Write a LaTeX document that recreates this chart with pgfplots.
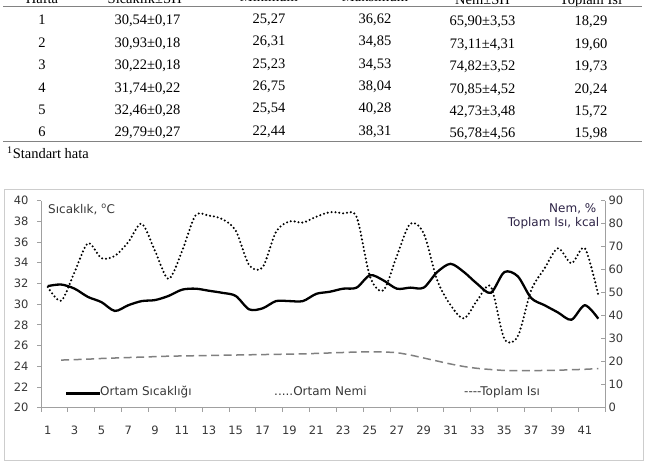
\documentclass[border=0pt]{standalone}
\usepackage{fontspec}
\setmainfont{Liberation Serif}
\newfontfamily\chartfont{DejaVu Sans}
\usepackage{pgfplots}
\usepackage{pgfplotstable}
\pgfplotsset{compat=1.18}
\definecolor{axisgray}{RGB}{160,160,160}
\definecolor{framegray}{RGB}{205,205,205}
\definecolor{labelgray}{RGB}{55,55,55}
\definecolor{rulegray}{RGB}{130,130,130}
\definecolor{dashgray}{RGB}{128,128,128}
\definecolor{navytext}{RGB}{45,35,70}

\newcommand\tabfont{\fontsize{14.5}{17}\selectfont}
\newcommand\cfont{\chartfont\fontsize{12}{14}\selectfont}
% one table row: baseline (pt), then six cells
\newcommand\trow[7]{%
  \node[anchor=base,font=\tabfont] at (42pt,#1pt) {#2};
  \node[anchor=base,font=\tabfont] at (147.5pt,#1pt) {#3};
  \node[anchor=base,font=\tabfont] at (269pt,#1pt+1.5pt) {#4};
  \node[anchor=base,font=\tabfont] at (375pt,#1pt+1.5pt) {#5};
  \node[anchor=base,font=\tabfont] at (482.5pt,#1pt-1pt) {#6};
  \node[anchor=base,font=\tabfont] at (591pt,#1pt-1pt) {#7};}

% week, mean temperature (left axis)
\pgfplotstableread{
i t
1 31.75
2 31.9
3 31.5
4 30.7
5 30.2
6 29.35
7 29.9
8 30.3
9 30.4
10 30.8
11 31.4
12 31.5
13 31.3
14 31.1
15 30.8
16 29.5
17 29.6
18 30.3
19 30.3
20 30.3
21 31.0
22 31.2
23 31.5
24 31.6
25 32.8
26 32.3
27 31.5
28 31.6
29 31.6
30 33.1
31 33.9
32 33.1
33 31.95
34 31.1
35 33.1
36 32.7
37 30.6
38 29.9
39 29.2
40 28.5
41 29.9
42 28.6
}\temp

% week, humidity (right axis)
\pgfplotstableread{
i n
1 52.5
2 46.5
3 59
4 71.5
5 65
6 66
7 72
8 80
9 68
10 56
11 68
12 83.5
13 83.5
14 82
15 77
16 62
17 61
18 76.5
19 81
20 80.5
21 83
22 85
23 84.5
24 83
25 57
26 51
27 66
28 80
29 75.8
30 55.5
31 44.6
32 38.8
33 46.8
34 52.6
35 30
36 31
37 51
38 60.6
39 69.3
40 62.8
41 69.3
42 49
}\nem

% week, total heat (right axis)
\pgfplotstableread{
i h
2 20.7
3 20.9
4 21.1
5 21.4
6 21.6
7 21.8
8 22.0
9 22.2
10 22.4
11 22.5
12 22.6
13 22.7
14 22.8
15 22.9
16 23.0
17 23.1
18 23.2
19 23.3
20 23.4
21 23.6
22 23.8
23 24.0
24 24.2
25 24.3
26 24.2
27 23.9
28 22.9
29 21.6
30 20.3
31 19.0
32 17.9
33 17.1
34 16.6
35 16.2
36 16.1
37 16.1
38 16.2
39 16.3
40 16.5
41 16.7
42 17.0
}\isi

\pgfplotsset{
  weekaxis/.style={
    at={(41pt,57.3pt)}, anchor=south west, scale only axis,
    width=564pt, height=207pt,
    xmin=0.5, xmax=42.5,
    axis line style={draw=axisgray, line width=0.8pt},
    tick style={draw=axisgray, line width=0.8pt},
    major tick length=4pt, minor tick length=4pt,
    tick label style={font=\chartfont\fontsize{11.5}{13}\selectfont, text=labelgray},
    /pgf/number format/assume math mode=true,
    clip=false
  }
}

\begin{document}
\begin{tikzpicture}
\useasboundingbox (0,0) rectangle (649pt,465pt);

% table (top cut off like the scan)
\trow{461.5}{Hafta}{Sıcaklık±SH\textsuperscript{1}}{Minimum}{Maksimum}{Nem±SH}{Toplam Isı}
\draw[rulegray, line width=0.8pt] (3pt,458.3pt) -- (642pt,458.3pt);
\trow{440}{1}{30,54±0,17}{25,27}{36,62}{65,90±3,53}{18,29}
\trow{417.65}{2}{30,93±0,18}{26,31}{34,85}{73,11±4,31}{19,60}
\trow{395.3}{3}{30,22±0,18}{25,23}{34,53}{74,82±3,52}{19,73}
\trow{372.95}{4}{31,74±0,22}{26,75}{38,04}{70,85±4,52}{20,24}
\trow{350.6}{5}{32,46±0,28}{25,54}{40,28}{42,73±3,48}{15,72}
\trow{328.25}{6}{29,79±0,27}{22,44}{38,31}{56,78±4,56}{15,98}
\draw[rulegray, line width=1.3pt] (3pt,323.3pt) -- (642pt,323.3pt);
\node[anchor=base west,font=\tabfont,inner sep=0pt] at (7pt,306pt) {\textsuperscript{1}Standart hata};

% chart frame
\draw[framegray, line width=1pt] (4pt,4pt) rectangle (643pt,275pt);

\begin{axis}[weekaxis,
  ymin=20, ymax=40,
  axis x line*=bottom, axis y line*=left,
  xtick={1,3,...,41}, minor xtick={0.5,2.5,...,42.5},
  major x tick style={draw=none},
  ytick={20,22,...,40}, tick align=outside,
  xticklabel style={yshift=-11pt}, yticklabel style={xshift=-5pt}]
  \addplot[black, line width=2.3pt, smooth, tension=0.5] table[x=i, y=t] {\temp};
\end{axis}

\begin{axis}[weekaxis,
  ymin=0, ymax=90,
  axis x line=none, axis y line*=right,
  xtick=\empty,
  ytick={0,10,...,90}, tick align=inside]
  \addplot[dashgray, line width=1.5pt, dash pattern=on 8pt off 4.5pt, smooth, tension=0.5] table[x=i, y=h] {\isi};
  \addplot[black, line width=2.3pt, line cap=round, dash pattern=on 0pt off 3.9pt, smooth, tension=0.5] table[x=i, y=n] {\nem};
\end{axis}

% axis titles and hand-made legend
\node[anchor=base west, font=\cfont, text=labelgray, inner sep=0pt] at (48pt,251.7pt) {Sıcaklık, \textsuperscript{o}C};
\node[anchor=base east, font=\cfont, text=navytext, inner sep=0pt] at (596.5pt,252.5pt) {Nem, \%};
\node[anchor=base east, font=\cfont, text=navytext, inner sep=0pt] at (599.5pt,238pt) {Toplam Isı, kcal};
\node[anchor=base west, font=\cfont, text=labelgray, inner sep=0pt] at (66pt,69pt) {\textcolor{black}{\rule[0.7pt]{34pt}{2.8pt}}Ortam Sıcaklığı};
\node[anchor=base west, font=\cfont, text=labelgray, inner sep=0pt] at (274pt,69pt) {.....Ortam Nemi};
\node[anchor=base west, font=\cfont, text=labelgray, inner sep=0pt] at (464pt,69pt) {----Toplam Isı};
\end{tikzpicture}
\end{document}
